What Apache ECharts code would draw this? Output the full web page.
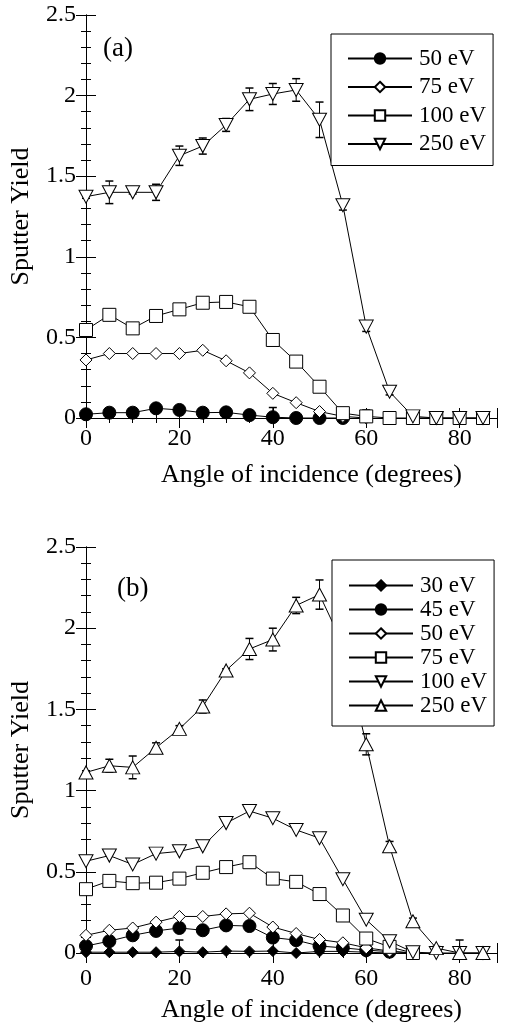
<!DOCTYPE html>
<html><head><meta charset="utf-8">
<script src="https://cdn.jsdelivr.net/npm/echarts@6/dist/echarts.min.js"></script>
<style>
body{margin:0;background:#fff}
#a{position:absolute;left:0;top:0;width:506px;height:500px}
#b{position:absolute;left:0;top:500px;width:506px;height:528px}
</style>
</head><body>
<div id="a"></div><div id="b"></div>
<script>
const angles = [0,5,10,15,20,25,30,35,40,45,50,55,60,65,70,75,80,85];
const xTicks = [0,20,40,60,80];
const yTicks = [0,0.5,1,1.5,2,2.5];

// Panel (a)
const namesA = ['50 eV','75 eV','100 eV','250 eV'];
const a50  = [0.023,0.033,0.033,0.06,0.05,0.033,0.035,0.018,0.005,0,0,0,null,null,null,null,null,null];
const a75  = [0.36,0.40,0.40,0.40,0.40,0.42,0.355,0.28,0.153,0.095,0.04,0.01,0,null,null,null,null,null];
const a100 = [0.546,0.64,0.556,0.633,0.674,0.715,0.72,0.69,0.484,0.35,0.194,0.03,0.01,0,0,0,0,0];
const a250 = [1.373,1.40,1.40,1.40,1.627,1.687,1.818,1.977,2.01,2.035,1.85,1.32,0.567,0.163,0.01,0,0,0];
const a50err  = [0,0,0,0.02,0,0,0,0,0.06,0,0,0,0,0,0,0,0,0];
const a100err = [0,0,0,0,0,0,0,0,0,0,0,0,0.04,0,0,0,0,0];
const a250err = [0.01,0.07,0.01,0.05,0.06,0.05,0.04,0.07,0.065,0.07,0.11,0.03,0.03,0.02,0.01,0.02,0.02,0.01];

// Panel (b)
const namesB = ['30 eV','45 eV','50 eV','75 eV','100 eV','250 eV'];
const b30  = [0.005,0.005,0.005,0.005,0.01,0.005,0.012,0.01,0.012,0,0.01,0.01,0.005,0,null,null,null,null];
const b45  = [0.043,0.073,0.109,0.136,0.154,0.14,0.17,0.166,0.095,0.079,0.043,0.032,0.018,0.008,0,null,null,null];
const b50  = [0.109,0.14,0.154,0.19,0.225,0.225,0.241,0.245,0.16,0.12,0.083,0.063,0.032,0.012,0,null,null,null];
const b75  = [0.393,0.444,0.43,0.433,0.458,0.494,0.529,0.559,0.458,0.438,0.363,0.231,0.089,0.038,0,null,null,null];
const b100 = [0.565,0.60,0.545,0.612,0.626,0.657,0.80,0.874,0.83,0.758,0.707,0.454,0.205,0.072,0.005,0,0,0];
const b250 = [1.112,1.153,1.143,1.264,1.38,1.518,1.74,1.872,1.93,2.14,2.207,1.9,1.285,0.657,0.195,0.03,0,0];
const b30err  = [0,0,0,0,0.07,0,0,0,0,0,0,0,0,0,0,0,0,0];
const b250err = [0.01,0.04,0.07,0.03,0.02,0.04,0.01,0.065,0.07,0.05,0.09,0.05,0.065,0.03,0.02,0.01,0.08,0.01];

const FONT = "'Liberation Serif','Times New Roman',serif";
const BLK = '#000';
const DOWN_TRI = 'path://M0,0 L10,0 L5,9 Z';
const UP_TRI = 'path://M5,0 L10,9 L0,9 Z';

function pairs(vals){ return angles.map((a,i)=>[a, vals[i]]); }
function errData(vals, errs){
  return angles.map((a,i)=>[a, vals[i], errs[i]]).filter(d=>d[1]!=null && d[2]>0);
}
function errRender(params, api){
  const x = api.value(0), y = api.value(1), e = api.value(2);
  const hi = api.coord([x, y+e]);
  const lo = api.coord([x, Math.max(0, y-e)]);
  const w = 4;
  return {type:'group', children:[
    {type:'line', shape:{x1:hi[0],y1:hi[1],x2:lo[0],y2:lo[1]}, style:{stroke:BLK,lineWidth:1}},
    {type:'line', shape:{x1:hi[0]-w,y1:hi[1],x2:hi[0]+w,y2:hi[1]}, style:{stroke:BLK,lineWidth:1.5}},
    {type:'line', shape:{x1:lo[0]-w,y1:lo[1],x2:lo[0]+w,y2:lo[1]}, style:{stroke:BLK,lineWidth:1.5}}
  ]};
}
function errSeries(vals, errs){
  return {type:'custom', renderItem: errRender, data: errData(vals, errs),
          encode:{x:0,y:1}, silent:true, z:1};
}
function lineSeries(name, vals, symbol, size, filled){
  return {type:'line', name, data: pairs(vals), symbol, symbolSize:size,
    showAllSymbol:true, connectNulls:false,
    lineStyle:{color:BLK,width:1},
    itemStyle:{color: filled?BLK:'#fff', borderColor:BLK, borderWidth:1},
    emphasis:{disabled:true}, z:2};
}
function axesOpts(labelMargin){
  const common = {type:'value', min:0, max:88, interval:20,
    axisLine:{show:true, lineStyle:{color:BLK,width:1}},
    axisTick:{show:true, inside:true, length:10, lineStyle:{color:BLK}},
    minorTick:{show:true, splitNumber:4, length:5, lineStyle:{color:BLK}},
    splitLine:{show:false}};
  const commonY = {type:'value', min:0, max:2.5, interval:0.5,
    axisLine:{show:true, lineStyle:{color:BLK,width:1}},
    axisTick:{show:true, inside:true, length:10, lineStyle:{color:BLK}},
    minorTick:{show:true, splitNumber:5, length:5, lineStyle:{color:BLK}},
    splitLine:{show:false}};
  return {
    xAxis:[
      Object.assign({}, common, {position:'bottom',
        axisLabel:{show:true, margin:labelMargin, fontFamily:FONT, fontSize:24, color:BLK, showMaxLabel:false,
          formatter: v => xTicks.indexOf(v) >= 0 ? String(v) : ''},
        name:'Angle of incidence (degrees)', nameLocation:'middle', nameGap:44,
        nameTextStyle:{fontFamily:FONT, fontSize:26, color:BLK, padding:[0,0,0,40]}}),
      Object.assign({}, common, {position:'top', axisLabel:{show:false}})
    ],
    yAxis:[
      Object.assign({}, commonY, {position:'left',
        axisLabel:{show:true, margin:10, fontFamily:FONT, fontSize:24, color:BLK,
          formatter: v => yTicks.indexOf(v) >= 0 ? String(v) : ''},
        name:'Sputter Yield', nameLocation:'middle', nameGap:52,
        nameTextStyle:{fontFamily:FONT, fontSize:26, color:BLK}}),
      Object.assign({}, commonY, {position:'right', axisLabel:{show:false}})
    ]
  };
}
function legendOpts(names, left, top, gap, padding){
  return {data:names, orient:'vertical', left, top, itemWidth:64, itemHeight:13, itemGap:gap,
    padding, backgroundColor:'#fff', borderColor:BLK, borderWidth:1, borderRadius:0,
    selectedMode:false,
    textStyle:{fontFamily:FONT, fontSize:23, color:BLK, padding:[0,0,0,2]}};
}

// Chart A
const chA = echarts.init(document.getElementById('a'), null, {renderer:'canvas'});
chA.setOption(Object.assign({
  animation:false,
  backgroundColor:'#fff',
  title:{text:'(a)', left:98, top:30, textStyle:{fontFamily:FONT, fontSize:27, fontWeight:'normal', color:BLK}},
  grid:{left:86, right:9, top:15, bottom:82},
  legend: legendOpts(namesA, 331, 34, 5.5, [13,7,10,16]),
  series:[
    errSeries(a50, a50err), errSeries(a100, a100err), errSeries(a250, a250err),
    lineSeries('50 eV', a50, 'circle', 13, true),
    lineSeries('75 eV', a75, 'diamond', 12, false),
    lineSeries('100 eV', a100, 'rect', 13, false),
    lineSeries('250 eV', a250, DOWN_TRI, [14,13], false)
  ]
}, axesOpts(9)));

// Chart B
const chB = echarts.init(document.getElementById('b'), null, {renderer:'canvas'});
chB.setOption(Object.assign({
  animation:false,
  backgroundColor:'#fff',
  title:{text:'(b)', left:112, top:70, textStyle:{fontFamily:FONT, fontSize:27, fontWeight:'normal', color:BLK}},
  grid:{left:86, right:9, top:47, bottom:70},
  legend: legendOpts(namesB, 332, 60, 1, [14,7,9,16]),
  series:[
    errSeries(b30, b30err), errSeries(b250, b250err),
    lineSeries('30 eV', b30, 'diamond', 11, true),
    lineSeries('45 eV', b45, 'circle', 13, true),
    lineSeries('50 eV', b50, 'diamond', 12, false),
    lineSeries('75 eV', b75, 'rect', 13, false),
    lineSeries('100 eV', b100, DOWN_TRI, [14,13], false),
    lineSeries('250 eV', b250, UP_TRI, [14,13], false)
  ]
}, axesOpts(14)));
</script>
</body></html>
